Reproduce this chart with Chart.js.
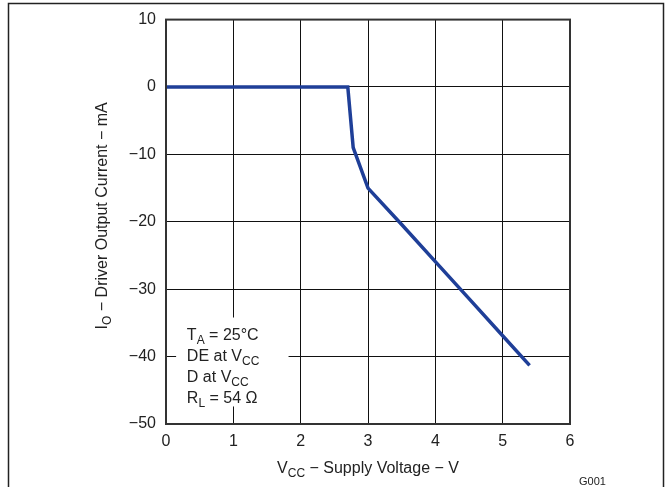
<!DOCTYPE html>
<html>
<head>
<meta charset="utf-8">
<script src="https://cdn.jsdelivr.net/npm/chart.js@4"></script>
<style>
  html, body { margin: 0; padding: 0; background: #fff; }
  #c { display: block; }
</style>
</head>
<body>
<canvas id="c" width="671" height="487"></canvas>
<script>
// ---- data ----
const supplyVoltage = [0, 2.7, 2.78, 3.0, 3.5, 4.0, 4.5, 5.0, 5.4];          // V_CC (V)
const outputCurrent = [0, 0, -9, -15, -20.4, -25.9, -31.4, -36.9, -41.3];    // I_O (mA)
const xTicks = [0, 1, 2, 3, 4, 5, 6];
const yTicks = [10, 0, -10, -20, -30, -40, -50];
const conditionLines = [
  [{t: 'T'}, {t: 'A', sub: true}, {t: ' = 25°C'}],
  [{t: 'DE at V'}, {t: 'CC', sub: true}],
  [{t: 'D at V'}, {t: 'CC', sub: true}],
  [{t: 'R'}, {t: 'L', sub: true}, {t: ' = 54 Ω'}]
];
const xTitle = [{t: 'V'}, {t: 'CC', sub: true}, {t: ' − Supply Voltage − V'}];
const yTitle = [{t: 'I'}, {t: 'O', sub: true}, {t: ' − Driver Output Current − mA'}];
const figureId = 'G001';

const FONT = 'Arial, "Liberation Sans", Helvetica, sans-serif';

function segWidth(ctx, segs, size, subSize) {
  let w = 0;
  for (const s of segs) {
    ctx.font = (s.sub ? subSize : size) + 'px ' + FONT;
    w += ctx.measureText(s.t).width;
  }
  return w;
}
function drawSegs(ctx, segs, x, y, size, subSize, subDrop) {
  let cx = x;
  for (const s of segs) {
    ctx.font = (s.sub ? subSize : size) + 'px ' + FONT;
    ctx.fillText(s.t, cx, s.sub ? y + subDrop : y);
    cx += ctx.measureText(s.t).width;
  }
}

const decorPlugin = {
  id: 'decor',
  beforeDatasetsDraw(chart) {
    const ctx = chart.ctx;
    const xs = chart.scales.x, ys = chart.scales.y;
    // white box of test conditions
    const bx = xs.getPixelForValue(0.15), by = ys.getPixelForValue(-34.2);
    const bw = xs.getPixelForValue(1.82) - bx, bh = ys.getPixelForValue(-47.4) - by;
    ctx.save();
    ctx.fillStyle = '#fff';
    ctx.fillRect(bx, by, bw, bh);
    ctx.fillStyle = '#222';
    ctx.textBaseline = 'alphabetic';
    ctx.textAlign = 'left';
    const tx = xs.getPixelForValue(0.31);
    let ty = ys.getPixelForValue(-37.6);
    for (const line of conditionLines) {
      drawSegs(ctx, line, tx, ty, 16, 12, 4);
      ty += 21;
    }
    ctx.restore();
  },
  afterDatasetsDraw(chart) {
    const ctx = chart.ctx;
    const a = chart.chartArea;
    ctx.save();
    // plot frame
    ctx.strokeStyle = '#333';
    ctx.lineWidth = 2;
    ctx.strokeRect(a.left, a.top, a.right - a.left, a.bottom - a.top);
    // outer figure frame
    ctx.strokeStyle = '#222';
    ctx.lineWidth = 1.5;
    ctx.beginPath();
    ctx.moveTo(8.5, 487);
    ctx.lineTo(8.5, 3.5);
    ctx.lineTo(663.5, 3.5);
    ctx.lineTo(663.5, 487);
    ctx.stroke();

    ctx.fillStyle = '#222';
    ctx.textBaseline = 'alphabetic';
    ctx.textAlign = 'left';
    // x-axis title
    const wX = segWidth(ctx, xTitle, 16, 12);
    drawSegs(ctx, xTitle, (a.left + a.right) / 2 - wX / 2, 473, 16, 12, 4);
    // y-axis title (rotated)
    const wY = segWidth(ctx, yTitle, 16, 12);
    ctx.save();
    ctx.translate(107, (a.top + a.bottom) / 2 - 6);
    ctx.rotate(-Math.PI / 2);
    drawSegs(ctx, yTitle, -wY / 2, 0, 16, 12, 4);
    ctx.restore();
    // figure id
    ctx.font = '11px ' + FONT;
    ctx.fillText(figureId, 579, 485);
    ctx.restore();
  }
};

new Chart(document.getElementById('c'), {
  type: 'line',
  data: {
    datasets: [{
      data: supplyVoltage.map((v, i) => ({x: v, y: outputCurrent[i]})),
      borderColor: '#1f3f98',
      borderWidth: 3.5,
      pointRadius: 0,
      tension: 0,
      fill: false,
      borderJoinStyle: 'miter'
    }]
  },
  options: {
    responsive: false,
    animation: false,
    devicePixelRatio: 1,
    layout: { padding: { left: 0, top: 17, right: 101, bottom: 0 } },
    plugins: { legend: { display: false }, tooltip: { enabled: false } },
    scales: {
      x: {
        type: 'linear',
        min: xTicks[0], max: xTicks[xTicks.length - 1],
        afterFit(s) { s.height = 63; },
        afterBuildTicks(s) { s.ticks = xTicks.map(v => ({value: v})); },
        grid: { color: '#111', lineWidth: 1, drawTicks: false },
        border: { display: false },
        ticks: {
          padding: 8,
          color: '#222',
          font: { family: FONT, size: 16 },
          callback: v => String(v).replace('-', '−')
        }
      },
      y: {
        type: 'linear',
        min: yTicks[yTicks.length - 1], max: yTicks[0],
        afterFit(s) { s.width = 166; },
        afterBuildTicks(s) { s.ticks = yTicks.slice().reverse().map(v => ({value: v})); },
        grid: { color: '#111', lineWidth: 1, drawTicks: false },
        border: { display: false },
        ticks: {
          padding: 10,
          color: '#222',
          font: { family: FONT, size: 16 },
          callback: v => String(v).replace('-', '−')
        }
      }
    }
  },
  plugins: [decorPlugin]
});
</script>
</body>
</html>
